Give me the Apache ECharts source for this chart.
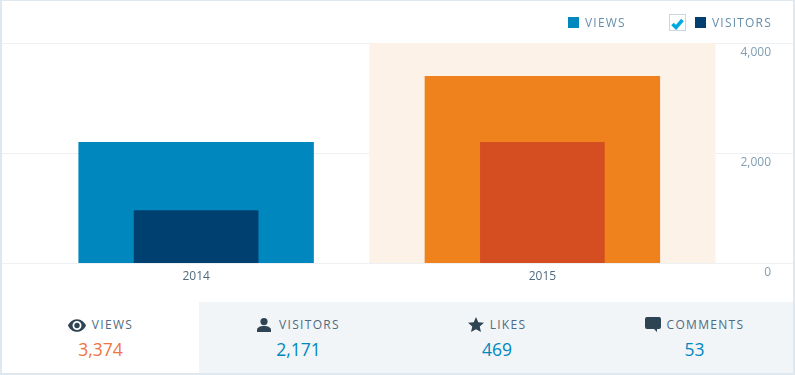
<!DOCTYPE html>
<html>
<head>
<meta charset="utf-8">
<script src="https://cdn.jsdelivr.net/npm/echarts@6/dist/echarts.min.js"></script>
<style>
html, body { margin: 0; padding: 0; background: #fff; }
#wrap { position: relative; width: 795px; height: 375px; overflow: hidden; font-family: "Open Sans", sans-serif; }
#main { position: absolute; left: 0; top: 0; width: 795px; height: 375px; }
#frame { position: absolute; left: 0; top: 0; border: 1px solid #dfe8ef; border-width: 1px 2px 2px 2px; width: 791px; height: 372px; pointer-events: none; }
#legend { position: absolute; top: 16px; left: 0; height: 14px; font-size: 12px; line-height: 14px; letter-spacing: 1.2px; color: #668eaa; }
#legend span { position: absolute; white-space: nowrap; }
#legend i { position: absolute; width: 11px; height: 11px; top: 1px; }
#check { position: absolute; left: 669px; top: 14px; width: 15px; height: 15px; border: 1px solid #c8d7e1; background: #fff; }
#stats { position: absolute; left: 2px; top: 302px; width: 791px; height: 71px; display: flex; }
.stat { position: relative; background: #f2f5f8; text-align: center; }
.stat.on { background: #fff; }
.stat .label { position: absolute; top: 15px; left: 0; right: 0; font-size: 12px; line-height: 16px; letter-spacing: 1.3px; color: #4f6b80; }
.stat svg { vertical-align: -3px; margin-right: 6px; fill: #2e4453; }
.stat .val { position: absolute; top: 35px; left: 0; right: 0; font-size: 17.5px; line-height: 24px; color: #0087be; }
.stat.on .val { color: #f0743f; }
</style>
</head>
<body>
<div id="wrap">
  <div id="main"></div>
  <div id="legend"></div>
  <div id="check"><svg width="15" height="15" viewBox="0 0 15 15"><path d="M2.5 7 L6 10.500 L12.500 3" fill="none" stroke="#00aadc" stroke-width="3.500"/></svg></div>
  <div id="stats"></div>
  <div id="frame"></div>
</div>
<script>
var categories = ['2014', '2015']
var viewsData = [2200, 3400]
var visitorsData = [960, 2200]
var yTicks = [0, 2000, 4000]
var statLabels = ['VIEWS', 'VISITORS', 'LIKES', 'COMMENTS']
var statValues = ['3,374', '2,171', '469', '53']
var statWidths = [197, 199, 198, 197]
var statIcons = [
  '<svg width="18" height="13" viewBox="0 0 20 14"><path d="M10 0C5 0 1.500 3.500 0 7c1.500 3.500 5 7 10 7s8.500-3.500 10-7c-1.500-3.500-5-7-10-7zm0 12a5 5 0 1 1 0-10 5 5 0 0 1 0 10zm0-8a3 3 0 1 0 0 6 3 3 0 0 0 0-6z"/></svg>',
  '<svg width="14" height="14" viewBox="0 0 14 14" style="margin-right:8px"><circle cx="7" cy="3.600" r="3.600"/><path d="M0 14v-2c0-2.500 3-4 7-4s7 1.500 7 4v2z"/></svg>',
  '<svg width="16" height="15" viewBox="0 0 16 15"><path d="M8 0l2.300 5.300 5.700.5-4.300 3.800 1.300 5.400L8 12.200 3 15l1.300-5.400L0 5.800l5.700-.5z"/></svg>',
  '<svg width="16" height="15" viewBox="0 0 16 15"><path d="M2 0h12a2 2 0 0 1 2 2v8a2 2 0 0 1-2 2h-2v3l-3-3H2a2 2 0 0 1-2-2V2a2 2 0 0 1 2-2z"/></svg>'
]

var legendEl = document.getElementById('legend')
legendEl.innerHTML =
  '<i style="left:568px;background:#0087be"></i><span style="left:585px">VIEWS</span>' +
  '<i style="left:695px;background:#004070"></i><span style="left:712px">VISITORS</span>'

var statsEl = document.getElementById('stats')
statsEl.innerHTML = statLabels.map(function(name, i) {
  return '<div class="stat' + (i === 0 ? ' on' : '') + '" style="width:' + statWidths[i] + 'px">' +
    '<div class="label">' + statIcons[i] + name + '</div>' +
    '<div class="val">' + statValues[i] + '</div></div>'
}).join('')

var chart = echarts.init(document.getElementById('main'))
chart.setOption({
  animation: false,
  textStyle: { fontFamily: 'Open Sans' },
  grid: [
    // plot area with the two category bands
    { left: 23, right: 79.5, top: 43, height: 220 },
    // full width grid only for the horizontal lines and tick labels
    { left: 0, right: 0, top: 43, height: 220 }
  ],
  xAxis: [
    {
      type: 'category',
      gridIndex: 0,
      data: categories,
      axisLine: { show: false },
      axisTick: { show: false },
      axisLabel: { color: '#4f6b80', fontSize: 12, margin: 8 },
      splitArea: { show: true, interval: 0, areaStyle: { color: ['rgba(0,0,0,0)', '#fdf2e8'] } }
    },
    {
      type: 'category',
      gridIndex: 1,
      data: categories,
      show: false
    },
    // second axis on the plot grid so the narrow bars center on their own
    {
      type: 'category',
      gridIndex: 0,
      data: categories,
      show: false
    }
  ],
  yAxis: [
    {
      type: 'value',
      gridIndex: 0,
      min: 0,
      max: 4000,
      interval: 2000,
      show: false
    },
    {
      type: 'value',
      gridIndex: 1,
      position: 'right',
      min: 0,
      max: 4000,
      interval: 2000,
      axisLine: { show: false },
      axisTick: { show: false },
      axisLabel: {
        inside: true,
        margin: 24,
        fontSize: 12,
        verticalAlign: 'top',
        padding: [4, 0, 0, 0],
        color: function(value) { return value === 0 ? '#7fa8c4' : '#7f9db3' },
        formatter: function(value) { return yTicks.indexOf(value) >= 0 ? value.toLocaleString('en-US') : '' }
      },
      splitLine: { show: true, lineStyle: { color: '#edf1f4', width: 1 } }
    }
  ],
  series: [
    {
      name: 'Views',
      type: 'bar',
      xAxisIndex: 0,
      yAxisIndex: 0,
      barWidth: '68%',
      z: 2,
      data: [
        { value: viewsData[0], itemStyle: { color: '#0087be' } },
        { value: viewsData[1], itemStyle: { color: '#f0821e' } }
      ]
    },
    {
      name: 'Visitors',
      type: 'bar',
      xAxisIndex: 2,
      yAxisIndex: 0,
      barWidth: '36%',
      z: 3,
      data: [
        { value: visitorsData[0], itemStyle: { color: '#004070' } },
        { value: visitorsData[1], itemStyle: { color: '#d54e21' } }
      ]
    }
  ]
})
</script>
</body>
</html>
